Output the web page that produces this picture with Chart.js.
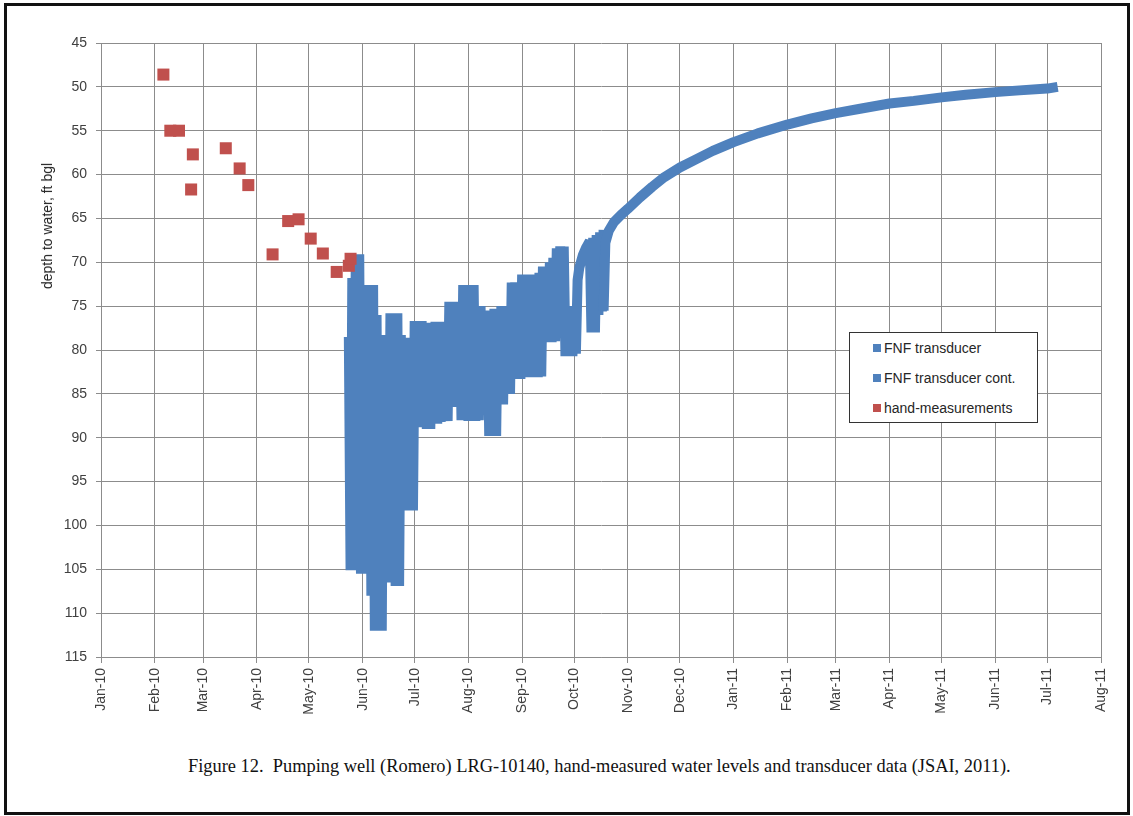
<!DOCTYPE html>
<html>
<head>
<meta charset="utf-8">
<title>LRG-10140 water levels</title>
<script src="https://cdn.jsdelivr.net/npm/chart.js@4"></script>
<style>
  html, body { margin: 0; padding: 0; background: #fff; }
  #page { position: relative; width: 1133px; height: 816px; overflow: hidden; background: #fff; }
  #frame { position: absolute; left: 4px; top: 3px; width: 1120px; height: 806px; border: 3px solid #111; box-sizing: content-box; }
  #wrap { position: absolute; left: 0; top: 0; width: 1133px; height: 740px; }
  #ytitle { position: absolute; left: 47px; top: 226px; transform: translate(-50%, -50%) rotate(-90deg);
            white-space: nowrap; font: 14px "Liberation Sans", Arial, sans-serif; color: #262626; }
  #legend { position: absolute; left: 849px; top: 332px; width: 187px; height: 89px; border: 1px solid #333;
            background: #fff; font: 14px "Liberation Sans", Arial, sans-serif; color: #262626; }
  .item { position: absolute; left: 23px; height: 16px; display: flex; align-items: center; white-space: nowrap; }
  .swatch { width: 8px; height: 8px; margin-right: 3px; }
  #caption { position: absolute; left: 188px; top: 756px; white-space: pre; color: #111;
             font: 18.4px "Liberation Serif", "Times New Roman", serif; }
</style>
</head>
<body>
<div id="page">
  <div id="frame"></div>
  <div id="wrap"><canvas id="chart" width="1133" height="740"></canvas></div>
  <div id="ytitle">depth to water, ft bgl</div>
  <div id="legend"></div>
  <div id="caption">Figure 12.  Pumping well (Romero) LRG-10140, hand-measured water levels and transducer data (JSAI, 2011).</div>
</div>
<script>
// Month gridlines along the time axis
const tickDates = ['2010-01-01','2010-02-01','2010-03-01','2010-04-01','2010-05-01','2010-06-01','2010-07-01',
  '2010-08-01','2010-09-01','2010-10-01','2010-11-01','2010-12-01','2011-01-01','2011-02-01','2011-03-01',
  '2011-04-01','2011-05-01','2011-06-01','2011-07-01','2011-08-01'];
const tickLabels = ['Jan-10','Feb-10','Mar-10','Apr-10','May-10','Jun-10','Jul-10','Aug-10','Sep-10','Oct-10',
  'Nov-10','Dec-10','Jan-11','Feb-11','Mar-11','Apr-11','May-11','Jun-11','Jul-11','Aug-11'];
const depthTicks = [45, 50, 55, 60, 65, 70, 75, 80, 85, 90, 95, 100, 105, 110, 115];

// Hand-measured depth to water (ft bgl)
const handDates = ['2010-02-06','2010-02-10','2010-02-15','2010-02-22','2010-02-23','2010-03-14','2010-03-22',
  '2010-03-27','2010-04-10','2010-04-19','2010-04-25','2010-05-02','2010-05-09','2010-05-17','2010-05-24','2010-05-25'];
const handDepths = [48.6, 55.0, 55.0, 61.7, 57.7, 57.0, 59.3, 61.2, 69.1, 65.3, 65.1, 67.3, 69.0, 71.1, 70.4, 69.6];

// Transducer record during pumping (high / low swings)
const fnfDates = [
  '2010-05-24','2010-05-25','2010-05-26','2010-05-27','2010-05-28','2010-05-29','2010-05-30','2010-05-31',
  '2010-06-01','2010-06-02','2010-06-03','2010-06-04','2010-06-05','2010-06-06','2010-06-07','2010-06-08',
  '2010-06-09','2010-06-10','2010-06-11','2010-06-12','2010-06-13','2010-06-14','2010-06-15','2010-06-16',
  '2010-06-17','2010-06-18','2010-06-19','2010-06-20','2010-06-21','2010-06-22','2010-06-23','2010-06-24',
  '2010-06-25','2010-06-26','2010-06-27','2010-06-28','2010-06-29','2010-06-30',
  '2010-07-01','2010-07-02','2010-07-03','2010-07-04','2010-07-05','2010-07-06','2010-07-07','2010-07-08',
  '2010-07-09','2010-07-10','2010-07-11','2010-07-12','2010-07-13','2010-07-14','2010-07-15','2010-07-16',
  '2010-07-17','2010-07-18','2010-07-19','2010-07-20','2010-07-21','2010-07-22','2010-07-23','2010-07-24',
  '2010-07-25','2010-07-26','2010-07-27','2010-07-28','2010-07-29','2010-07-30','2010-07-31',
  '2010-08-01','2010-08-02','2010-08-03','2010-08-04','2010-08-05','2010-08-06','2010-08-07','2010-08-08',
  '2010-08-09','2010-08-10','2010-08-11','2010-08-12','2010-08-13','2010-08-14','2010-08-15','2010-08-16',
  '2010-08-17','2010-08-18','2010-08-19','2010-08-20','2010-08-21','2010-08-22','2010-08-23','2010-08-24',
  '2010-08-25','2010-08-26','2010-08-27','2010-08-28','2010-08-29','2010-08-30','2010-08-31',
  '2010-09-01','2010-09-02','2010-09-03','2010-09-04','2010-09-05','2010-09-06','2010-09-07','2010-09-08',
  '2010-09-09','2010-09-10','2010-09-11','2010-09-12','2010-09-13','2010-09-14','2010-09-15','2010-09-16',
  '2010-09-17','2010-09-18','2010-09-19','2010-09-20','2010-09-21','2010-09-22','2010-09-23','2010-09-24',
  '2010-09-25','2010-09-26','2010-09-27','2010-09-28','2010-09-29','2010-09-30',
  '2010-10-01','2010-10-02','2010-10-03','2010-10-04','2010-10-06','2010-10-08','2010-10-10','2010-10-11',
  '2010-10-12','2010-10-13','2010-10-14','2010-10-15','2010-10-16','2010-10-17','2010-10-18'];
const fnfDepths = [
  78.5, 105.1, 71.8, 105.1, 69.1, 104.5, 69.1, 105.5,
  72.6, 105.5, 72.6, 105.5, 72.6, 108.0, 72.6, 112.0,
  76.0, 112.0, 80.0, 112.0, 78.3, 106.0, 78.3, 106.5,
  75.8, 106.5, 75.8, 106.9, 75.8, 106.9, 78.3, 98.3,
  78.6, 98.3, 78.6, 98.3, 78.6, 98.3,
  76.7, 88.8, 76.7, 88.8, 76.7, 88.8, 76.9, 89.0,
  76.9, 89.0, 76.9, 88.4, 76.8, 88.4, 76.8, 88.2,
  76.8, 88.1, 76.8, 88.1, 74.5, 86.5, 74.5, 86.5,
  74.5, 86.5, 74.5, 88.0, 72.6, 88.0, 72.6,
  88.1, 72.6, 88.1, 72.6, 88.1, 75.0, 88.0, 75.0,
  86.0, 75.5, 86.0, 75.5, 89.8, 75.5, 89.8, 75.3,
  89.8, 75.3, 86.2, 75.0, 86.2, 75.0, 85.0, 75.0,
  85.0, 72.3, 83.3, 72.3, 83.3, 72.3, 83.3,
  71.4, 83.1, 71.4, 83.1, 71.4, 83.1, 71.4, 83.1,
  71.4, 83.1, 71.2, 83.0, 70.5, 79.1, 70.5, 79.1,
  70.0, 79.1, 69.5, 79.0, 68.4, 74.0, 68.2, 72.0,
  68.2, 80.7, 75.0, 80.7, 75.0, 80.7,
  75.5, 80.4, 72.0, 70.6, 69.2, 68.3, 67.6, 78.0,
  67.2, 78.0, 66.9, 76.0, 66.6, 75.6, 66.3];

// Transducer record after pumping stopped (recovery)
const fnfContDates = ['2010-10-18','2010-10-19','2010-10-21','2010-10-24','2010-10-28','2010-11-01','2010-11-08',
  '2010-11-15','2010-11-22','2010-12-01','2010-12-10','2010-12-20','2011-01-01','2011-01-15','2011-02-01',
  '2011-02-15','2011-03-01','2011-03-15','2011-04-01','2011-04-15','2011-05-01','2011-05-15','2011-06-01',
  '2011-06-15','2011-07-01','2011-07-07'];
const fnfContDepths = [75.5, 67.8, 66.4, 65.4, 64.6, 63.9, 62.6, 61.4, 60.3, 59.2, 58.3, 57.3, 56.3, 55.3, 54.3,
  53.6, 53.0, 52.5, 51.9, 51.6, 51.2, 50.9, 50.6, 50.4, 50.2, 50.0];

const BLUE = '#4F81BD';
const RED = '#C0504D';
const GRID = '#8c8c8c';
const LABEL = '#404040';

const t0 = Date.UTC(2010, 0, 1);
function dayOf(s) {
  const [y, m, d] = s.split('-').map(Number);
  return (Date.UTC(y, m - 1, d) - t0) / 86400000;
}
function toPoints(dates, values) {
  return dates.map((d, i) => ({ x: dayOf(d), y: values[i] }));
}

const tickFont = { family: '"Liberation Sans", Arial, sans-serif', size: 14 };

const lineStyle = {
  showLine: true, borderColor: BLUE, backgroundColor: BLUE, borderWidth: 10,
  borderJoinStyle: 'bevel', borderCapStyle: 'butt', pointRadius: 0, tension: 0
};

const chart = new Chart(document.getElementById('chart'), {
  type: 'scatter',
  data: {
    datasets: [
      Object.assign({ label: 'FNF transducer', data: toPoints(fnfDates, fnfDepths), order: 2 }, lineStyle),
      Object.assign({ label: 'FNF transducer cont.', data: toPoints(fnfContDates, fnfContDepths), order: 1 }, lineStyle),
      { label: 'hand-measurements', data: toPoints(handDates, handDepths), order: 0,
        pointStyle: 'rect', pointRadius: 8.5, borderWidth: 0, backgroundColor: RED, borderColor: RED, showLine: false }
    ]
  },
  options: {
    responsive: false,
    animation: false,
    events: [],
    layout: { padding: { left: 0, top: 43, right: 32, bottom: 0 } },
    plugins: { legend: { display: false }, tooltip: { enabled: false } },
    scales: {
      x: {
        type: 'linear',
        min: dayOf(tickDates[0]),
        max: dayOf(tickDates[tickDates.length - 1]),
        afterBuildTicks: s => { s.ticks = tickDates.map(d => ({ value: dayOf(d) })); },
        afterFit: s => { s.height = 83; },
        ticks: { autoSkip: false, minRotation: 90, maxRotation: 90, padding: 5, color: LABEL, font: tickFont,
                 callback: (v, i) => tickLabels[i] },
        grid: { color: GRID, lineWidth: 1, drawTicks: true, tickLength: 6 },
        border: { color: GRID, width: 1 }
      },
      y: {
        type: 'linear',
        min: depthTicks[0],
        max: depthTicks[depthTicks.length - 1],
        reverse: true,
        afterBuildTicks: s => { s.ticks = depthTicks.map(v => ({ value: v })); },
        afterFit: s => { s.width = 101; },
        ticks: { padding: 9, color: LABEL, font: tickFont },
        grid: { color: GRID, lineWidth: 1, drawTicks: true, tickLength: 5 },
        border: { color: GRID, width: 1 }
      }
    }
  }
});

// Legend box built from the chart's own datasets
const legend = document.getElementById('legend');
const rowTops = [7, 37, 67];
chart.data.datasets.forEach((ds, i) => {
  const row = document.createElement('div');
  row.className = 'item';
  row.style.top = rowTops[i] + 'px';
  const sw = document.createElement('span');
  sw.className = 'swatch';
  sw.style.background = ds.backgroundColor;
  const tx = document.createElement('span');
  tx.textContent = ds.label;
  row.appendChild(sw);
  row.appendChild(tx);
  legend.appendChild(row);
});
</script>
</body>
</html>
